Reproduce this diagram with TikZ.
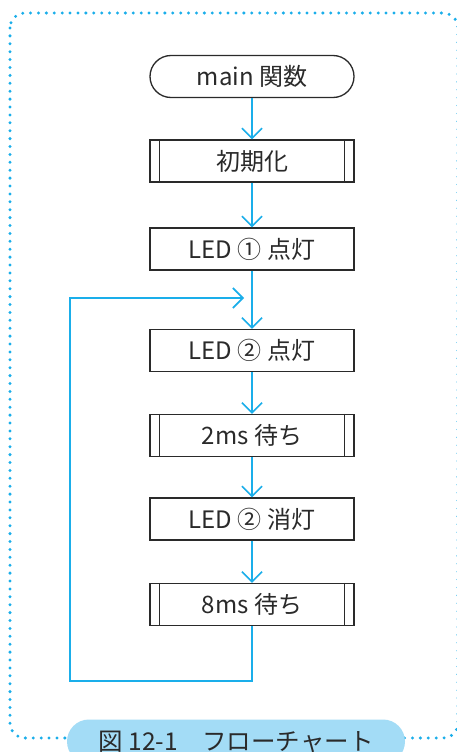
\documentclass[tikz,border=0pt]{standalone}
\usepackage{fontspec}
\setmainfont{Noto Sans CJK JP}
\usetikzlibrary{arrows.meta,shapes.misc}
\definecolor{flowblue}{HTML}{1AAEEA}
\definecolor{pillblue}{HTML}{A3DCF6}
\definecolor{ink}{HTML}{2A2A2A}
\tikzset{
  box/.style={draw=ink, line width=1.3pt, rectangle, minimum width=204pt, minimum height=42pt, inner sep=0pt, text=ink, font=\fontsize{24}{28}\selectfont},
  term/.style={box, rounded rectangle},
  flow/.style={draw=flowblue, line width=1.8pt},
  flowarrow/.style={flow, -{Straight Barb[length=10pt,width=20pt,line width=1.6pt]}},
  border/.style={draw=flowblue, line width=3.3pt, line cap=round, dash pattern=on 0pt off 7.9pt},
}
\newcommand{\subbars}[1]{%
  \draw[draw=ink, line width=1.3pt] ([xshift=10pt]#1.north west) -- ([xshift=10pt]#1.south west);
  \draw[draw=ink, line width=1.3pt] ([xshift=-10pt]#1.north east) -- ([xshift=-10pt]#1.south east);}
\begin{document}
\begin{tikzpicture}[x=1pt,y=-1pt]
\useasboundingbox (0,0) rectangle (456,752);
\fill[white] (0,0) rectangle (456,752);
% dotted frame
\draw[border, rounded corners=15pt] (10,13) rectangle (458,738);
% caption pill
\node[fill=pillblue, rounded rectangle, minimum width=338pt, minimum height=44pt, inner sep=0pt, text=ink, font=\fontsize{24.5}{28}\selectfont] (cap) at (236,741.5) {図 12-1　フローチャート};
% nodes
\node[term] (main) at (252,76.5) {main 関数};
\node[box] (init) at (252,161) {初期化};
\node[box] (led1on) at (252,249) {LED ① 点灯};
\node[box] (led2on) at (252,350.5) {LED ② 点灯};
\node[box] (w2) at (252,435.5) {2ms 待ち};
\node[box] (led2off) at (252,519) {LED ② 消灯};
\node[box] (w8) at (252,604.5) {8ms 待ち};
\subbars{init}
\subbars{w2}
\subbars{w8}
% connectors
\draw[flowarrow] (main) -- (init);
\draw[flowarrow] (init) -- (led1on);
\draw[flowarrow] (led1on) -- (led2on);
\draw[flowarrow] (led2on) -- (w2);
\draw[flowarrow] (w2) -- (led2off);
\draw[flowarrow] (led2off) -- (w8);
% loop back
\coordinate (lb) at (252,681);
\coordinate (ll) at (70,681);
\coordinate (lt) at (70,298);
\coordinate (lend) at (244,298);
\draw[flowarrow] (w8.south) -- (lb) -- (ll) -- (lt) -- (lend);
\end{tikzpicture}
\end{document}
